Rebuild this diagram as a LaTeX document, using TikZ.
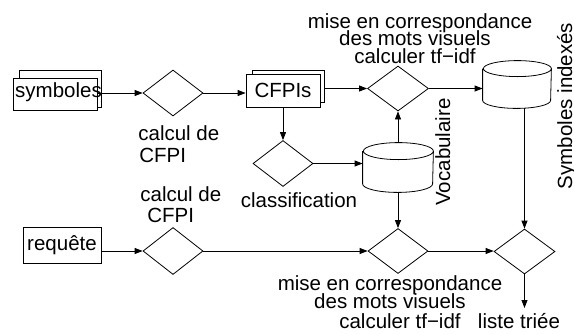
\documentclass[tikz,border=0pt]{standalone}
\usepackage{fontspec}
\setmainfont{Liberation Sans}
\usetikzlibrary{shapes.geometric,arrows.meta}
\begin{document}
\begin{tikzpicture}[x=1pt,y=-1pt,
  every path/.style={line width=0.8pt},
  boxnode/.style={draw,rectangle,inner sep=0,fill=white,font=\fontsize{20.5}{22}\selectfont},
  backbox/.style={draw,rectangle,inner sep=0},
  dia/.style={draw,diamond,inner sep=0,minimum width=60pt,minimum height=46pt},
  cylnode/.style={rectangle,inner sep=0,draw=none},
  lbl/.style={inner sep=0,anchor=base,font=\fontsize{20.5}{22}\selectfont},
  lblw/.style={inner sep=0,anchor=base west,font=\fontsize{20.5}{22}\selectfont},
  arr/.style={-{Triangle[length=8pt,width=6pt]}}
]
\useasboundingbox (0,0) rectangle (574,333);

% stacked documents
\node[backbox,minimum width=82pt,minimum height=37pt] (symb) at (60,88.5) {};
\node[boxnode,minimum width=84pt,minimum height=32pt] (sym) at (55,94) {};
\node[lbl] (symt) at (58.5,97) {symboles};

\node[backbox,minimum width=72pt,minimum height=32pt] (cfb) at (288,86) {};
\node[boxnode,minimum width=74pt,minimum height=33pt] (cf) at (283,90.5) {CFPIs};

\node[boxnode,minimum width=78pt,minimum height=36pt] (req) at (62,245) {requête};

% diamonds
\node[dia] (d1) at (173,93) {};
\node[dia,minimum width=61pt,minimum height=45pt] (d2) at (398,88.5) {};
\node[dia] (d3) at (283,163.5) {};
\node[dia,minimum height=47pt] (d4) at (173,251) {};
\node[dia,minimum height=45pt] (d5) at (398,251) {};
\node[dia,minimum width=61pt,minimum height=45pt] (d6) at (524.5,251.5) {};

% cylinders
\node[cylnode,minimum width=70pt,minimum height=49pt] (voc) at (398,167.5) {};
\draw ([yshift=-8.5pt]voc.north west) -- ([yshift=8.5pt]voc.south west)
  arc[start angle=180,end angle=360,x radius=35pt,y radius=8.5pt]
  -- ([yshift=-8.5pt]voc.north east)
  arc[start angle=0,end angle=360,x radius=35pt,y radius=8.5pt];
\node[cylnode,minimum width=68pt,minimum height=47pt] (idx) at (517,84.5) {};
\draw ([yshift=-8pt]idx.north west) -- ([yshift=8pt]idx.south west)
  arc[start angle=180,end angle=360,x radius=34pt,y radius=8pt]
  -- ([yshift=-8pt]idx.north east)
  arc[start angle=0,end angle=360,x radius=34pt,y radius=8pt];

\coordinate (fin) at (524.5,308);

% connectors
\draw[arr] (sym.east |- d1.west) -- (d1.west);
\draw[arr] (d1.east) -- (d1.east -| cf.west);
\draw[arr] (cfb.east |- d2.west) -- (d2.west);
\draw[arr] (d2.east) -- (d2.east -| idx.west);
\draw[arr] (cf.south) -- (d3.north);
\draw[arr] (d3.east) -- (d3.east -| voc.west);
\draw[arr] (voc.north) -- (d2.south);
\draw[arr] (voc.south) -- (d5.north);
\draw[arr] (d6.north |- idx.south) -- (d6.north);
\draw[arr] (req.east |- d4.west) -- (d4.west);
\draw[arr] (d4.east) -- (d5.west);
\draw[arr] (d5.east) -- (d5.east -| d6.west);
\draw[arr] (d6.south) -- (fin);

% labels
\node[lblw] (c1a) at (138,140) {calcul de};
\node[lblw] (c1b) at (139,162) {CFPI};
\node[lblw] (c2a) at (140,201) {calcul de};
\node[lblw] (c2b) at (147,222) {CFPI};
\node[lbl] (t1) at (420,28) {mise en correspondance};
\node[lbl] (t2) at (415,45) {des mots visuels};
\node[lbl] (t3) at (415,63) {calculer tf−idf};
\node[lbl] (b1) at (390,290) {mise en correspondance};
\node[lbl] (b2) at (390,308) {des mots visuels};
\node[lbl] (b3) at (400,328) {calculer tf−idf};
\node[lbl] (cl) at (299,207) {classification};
\node[lbl] (lt) at (519,328) {liste triée};
\node[lbl,rotate=90] (vt) at (450,152) {Vocabulaire};
\node[lbl,rotate=90] (it) at (572,106) {Symboles indexés};
\end{tikzpicture}
\end{document}
